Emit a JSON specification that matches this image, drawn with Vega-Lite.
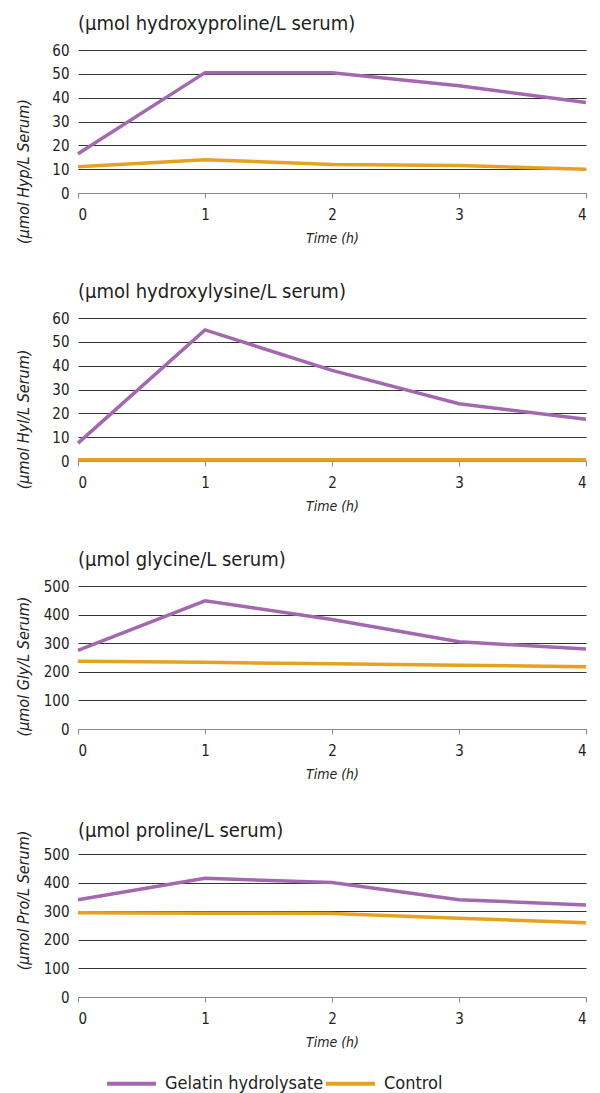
{
  "$schema": "https://vega.github.io/schema/vega-lite/v6.json",
  "padding": {"left": 14, "top": 14, "right": 10, "bottom": 0},
  "background": "white",
  "bounds": "flush",
  "datasets": {
    "d": [
      {"panel": "Hyp", "time": 0, "group": "Gelatin hydrolysate", "value": 16.5},
      {"panel": "Hyp", "time": 1, "group": "Gelatin hydrolysate", "value": 50.5},
      {"panel": "Hyp", "time": 2, "group": "Gelatin hydrolysate", "value": 50.5},
      {"panel": "Hyp", "time": 3, "group": "Gelatin hydrolysate", "value": 45},
      {"panel": "Hyp", "time": 4, "group": "Gelatin hydrolysate", "value": 38},
      {"panel": "Hyp", "time": 0, "group": "Control", "value": 11},
      {"panel": "Hyp", "time": 1, "group": "Control", "value": 14},
      {"panel": "Hyp", "time": 2, "group": "Control", "value": 12},
      {"panel": "Hyp", "time": 3, "group": "Control", "value": 11.5},
      {"panel": "Hyp", "time": 4, "group": "Control", "value": 10},
      {"panel": "Hyl", "time": 0, "group": "Gelatin hydrolysate", "value": 7.5},
      {"panel": "Hyl", "time": 1, "group": "Gelatin hydrolysate", "value": 55},
      {"panel": "Hyl", "time": 2, "group": "Gelatin hydrolysate", "value": 38},
      {"panel": "Hyl", "time": 3, "group": "Gelatin hydrolysate", "value": 24},
      {"panel": "Hyl", "time": 4, "group": "Gelatin hydrolysate", "value": 17.5},
      {"panel": "Hyl", "time": 0, "group": "Control", "value": 0.5},
      {"panel": "Hyl", "time": 1, "group": "Control", "value": 0.5},
      {"panel": "Hyl", "time": 2, "group": "Control", "value": 0.5},
      {"panel": "Hyl", "time": 3, "group": "Control", "value": 0.5},
      {"panel": "Hyl", "time": 4, "group": "Control", "value": 0.5},
      {"panel": "Gly", "time": 0, "group": "Gelatin hydrolysate", "value": 275},
      {"panel": "Gly", "time": 1, "group": "Gelatin hydrolysate", "value": 448},
      {"panel": "Gly", "time": 2, "group": "Gelatin hydrolysate", "value": 383},
      {"panel": "Gly", "time": 3, "group": "Gelatin hydrolysate", "value": 305},
      {"panel": "Gly", "time": 4, "group": "Gelatin hydrolysate", "value": 280},
      {"panel": "Gly", "time": 0, "group": "Control", "value": 237},
      {"panel": "Gly", "time": 1, "group": "Control", "value": 233},
      {"panel": "Gly", "time": 2, "group": "Control", "value": 228},
      {"panel": "Gly", "time": 3, "group": "Control", "value": 223},
      {"panel": "Gly", "time": 4, "group": "Control", "value": 218},
      {"panel": "Pro", "time": 0, "group": "Gelatin hydrolysate", "value": 340},
      {"panel": "Pro", "time": 1, "group": "Gelatin hydrolysate", "value": 415},
      {"panel": "Pro", "time": 2, "group": "Gelatin hydrolysate", "value": 400},
      {"panel": "Pro", "time": 3, "group": "Gelatin hydrolysate", "value": 340},
      {"panel": "Pro", "time": 4, "group": "Gelatin hydrolysate", "value": 322},
      {"panel": "Pro", "time": 0, "group": "Control", "value": 295},
      {"panel": "Pro", "time": 1, "group": "Control", "value": 293},
      {"panel": "Pro", "time": 2, "group": "Control", "value": 292},
      {"panel": "Pro", "time": 3, "group": "Control", "value": 275},
      {"panel": "Pro", "time": 4, "group": "Control", "value": 260}
    ]
  },
  "config": {
    "view": {"stroke": null},
    "font": "DejaVu Sans Condensed, Liberation Sans, sans-serif",
    "title": {"font": "DejaVu Sans Condensed, Liberation Sans, sans-serif", "fontSize": 20, "fontWeight": "normal", "anchor": "start", "frame": "group", "color": "#222", "offset": 9},
    "axisY": {"grid": true, "gridColor": "#333", "gridWidth": 1, "ticks": false, "domain": false, "labelFont": "DejaVu Sans Condensed, Liberation Sans, sans-serif", "labelFontSize": 15, "labelColor": "#222", "labelPadding": 9, "titleFont": "DejaVu Sans Condensed, Liberation Sans, sans-serif", "titleFontSize": 16, "titleFontStyle": "italic", "titleFontWeight": "normal", "titleColor": "#222", "titleX": -55, "titleBaseline": "middle", "titleAngle": -90},
    "axisX": {"grid": false, "domainColor": "#888", "tickColor": "#888", "tickSize": 5, "labelFont": "DejaVu Sans Condensed, Liberation Sans, sans-serif", "labelFontSize": 15, "labelColor": "#222", "labelPadding": 9, "titleFont": "DejaVu Sans Condensed, Liberation Sans, sans-serif", "titleFontSize": 14, "titleFontStyle": "italic", "titleFontWeight": "normal", "titleColor": "#222", "titlePadding": 9, "labelAngle": 0},
    "legend": {"labelFont": "DejaVu Sans Condensed, Liberation Sans, sans-serif", "labelFontSize": 18, "labelLimit": 0, "labelColor": "#222", "title": null, "orient": "none", "legendX": 27, "legendY": 1007, "direction": "horizontal", "symbolType": "stroke", "symbolSize": 2400, "symbolStrokeWidth": 4, "labelOffset": 7, "columnPadding": -15},
    "concat": {"spacing": 125}
  },
  "vconcat": [
    {
      "width": 508, "height": 143,
      "title": "(μmol hydroxyproline/L serum)",
      "data": {"name": "d"},
      "transform": [{"filter": "datum.panel === 'Hyp'"}],
      "mark": {"type": "line", "strokeWidth": 3.5},
      "encoding": {
        "x": {"field": "time", "type": "quantitative", "scale": {"domain": [0, 4], "nice": false}, "axis": {"values": [0, 1, 2, 3, 4], "title": "Time (h)"}},
        "y": {"field": "value", "type": "quantitative", "scale": {"domain": [0, 60], "nice": false}, "axis": {"values": [0, 10, 20, 30, 40, 50, 60], "title": "(μmol Hyp/L Serum)", "titleY": 121}},
        "color": {"field": "group", "type": "nominal", "scale": {"domain": ["Gelatin hydrolysate", "Control"], "range": ["#a468b1", "#e6a21f"]}}
      }
    },
    {
      "width": 508, "height": 143,
      "title": "(μmol hydroxylysine/L serum)",
      "data": {"name": "d"},
      "transform": [{"filter": "datum.panel === 'Hyl'"}],
      "mark": {"type": "line", "strokeWidth": 3.5},
      "encoding": {
        "x": {"field": "time", "type": "quantitative", "scale": {"domain": [0, 4], "nice": false}, "axis": {"values": [0, 1, 2, 3, 4], "title": "Time (h)"}},
        "y": {"field": "value", "type": "quantitative", "scale": {"domain": [0, 60], "nice": false}, "axis": {"values": [0, 10, 20, 30, 40, 50, 60], "title": "(μmol Hyl/L Serum)", "titleY": 101}},
        "color": {"field": "group", "type": "nominal", "scale": {"domain": ["Gelatin hydrolysate", "Control"], "range": ["#a468b1", "#e6a21f"]}}
      }
    },
    {
      "width": 508, "height": 143,
      "title": "(μmol glycine/L serum)",
      "data": {"name": "d"},
      "transform": [{"filter": "datum.panel === 'Gly'"}],
      "mark": {"type": "line", "strokeWidth": 3.5},
      "encoding": {
        "x": {"field": "time", "type": "quantitative", "scale": {"domain": [0, 4], "nice": false}, "axis": {"values": [0, 1, 2, 3, 4], "title": "Time (h)"}},
        "y": {"field": "value", "type": "quantitative", "scale": {"domain": [0, 500], "nice": false}, "axis": {"values": [0, 100, 200, 300, 400, 500], "title": "(μmol Gly/L Serum)", "titleY": 80}},
        "color": {"field": "group", "type": "nominal", "scale": {"domain": ["Gelatin hydrolysate", "Control"], "range": ["#a468b1", "#e6a21f"]}}
      }
    },
    {
      "width": 508, "height": 143,
      "title": {"text": "(μmol proline/L serum)", "offset": -11},
      "data": {"name": "d"},
      "transform": [{"filter": "datum.panel === 'Pro'"}],
      "mark": {"type": "line", "strokeWidth": 3.5},
      "encoding": {
        "x": {"field": "time", "type": "quantitative", "scale": {"domain": [0, 4], "nice": false}, "axis": {"values": [0, 1, 2, 3, 4], "title": "Time (h)"}},
        "y": {"field": "value", "type": "quantitative", "scale": {"domain": [0, 500], "nice": false}, "axis": {"values": [0, 100, 200, 300, 400, 500], "title": "(μmol Pro/L Serum)", "titleY": 46}},
        "color": {"field": "group", "type": "nominal", "scale": {"domain": ["Gelatin hydrolysate", "Control"], "range": ["#a468b1", "#e6a21f"]}}
      }
    }
  ]
}
